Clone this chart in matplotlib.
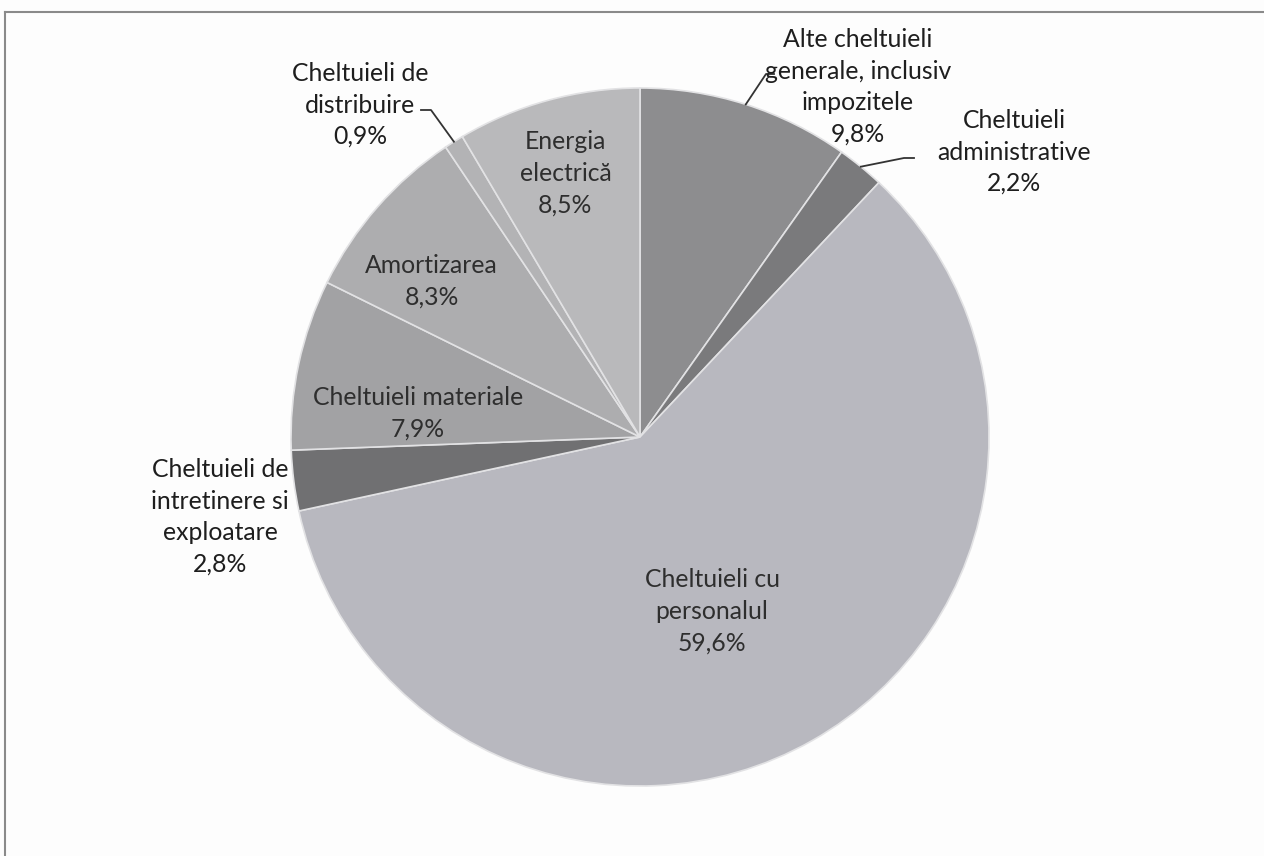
import numpy as np
import matplotlib.pyplot as plt

# slice data, clockwise from 12 o'clock
labels = ["Alte cheltuieli\ngenerale, inclusiv\nimpozitele",
          "Cheltuieli\nadministrative",
          "Cheltuieli cu\npersonalul",
          "Cheltuieli de\nintretinere si\nexploatare",
          "Cheltuieli materiale",
          "Amortizarea",
          "Cheltuieli de\ndistribuire",
          "Energia\nelectrică"]
values = [9.8, 2.2, 59.6, 2.8, 7.9, 8.3, 0.9, 8.5]
colors = ["#8d8d8f", "#7a7a7c", "#b8b8bf", "#707072", "#a2a2a4", "#adadaf", "#b3b3b5", "#b9b9bb"]

W, H = 1264, 856
cx, cy, R = 640, H - 437, 349

plt.rcParams['font.family'] = ['Lato', 'DejaVu Sans']

fig = plt.figure(figsize=(W / 100, H / 100), dpi=100, facecolor="#fdfdfd")
ax = fig.add_axes([0, 0, 1, 1])

wedges, _ = ax.pie(values, colors=colors, startangle=90, counterclock=False,
                   center=(cx, cy), radius=R, frame=True,
                   wedgeprops=dict(edgecolor="#e2e2e4", linewidth=1.2))
ax.set_xlim(0, W)
ax.set_ylim(0, H)
ax.set_aspect('equal')
ax.axis('off')

# label placement: inside -> (distance factor, angle shift); outside -> text centre in px
inside = {2: (0.54, 7), 4: (0.64, 6), 5: (0.745, 4.5), 7: (0.785, 0.5)}
outside = {0: (858, H - 87), 1: (1014, H - 152), 3: (220, H - 517), 6: (360, H - 105)}
# elbow of leader lines (px), for the labels that have one
elbows = {0: ((766, H - 74), (774, H - 74)),
          1: ((904, H - 158), (914, H - 158)),
          6: ((431, H - 110), (421, H - 110))}

fs = 17.8
for i, w in enumerate(wedges):
    mid = np.deg2rad((w.theta1 + w.theta2) / 2)
    txt = f"{labels[i]}\n{values[i]:.1f}%".replace(".", ",")
    if i in inside:
        d, shift = inside[i]
        a = mid + np.deg2rad(shift) * (1 if np.cos(mid) < 0 else -1)
        ax.text(cx + d * R * np.cos(a), cy + d * R * np.sin(a), txt,
                ha='center', va='center', fontsize=fs, color="#2e2e2e", linespacing=1.45)
    else:
        x, y = outside[i]
        ax.text(x, y, txt, ha='center', va='center', fontsize=fs, color="#1e1e1e",
                linespacing=1.45)
        if i in elbows:
            (ex, ey), (tx, ty) = elbows[i]
            px, py = cx + R * np.cos(mid), cy + R * np.sin(mid)
            ax.plot([px, ex, tx], [py, ey, ty], color="#333333", lw=1.3)

# frame of the scanned chart area (only top and left edges visible)
fig.add_artist(plt.Line2D([5 / W, 1], [1 - 12 / H, 1 - 12 / H], color="#8a8a8a", lw=1.5))
fig.add_artist(plt.Line2D([5 / W, 5 / W], [0, 1 - 12 / H], color="#8a8a8a", lw=1.5))

fig.savefig("out.png", dpi=100, facecolor=fig.get_facecolor())
